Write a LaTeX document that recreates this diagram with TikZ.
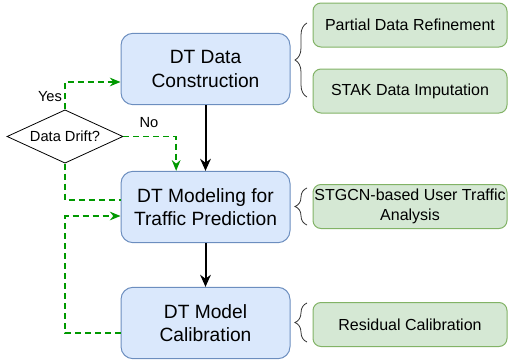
\documentclass[tikz,border=0pt]{standalone}
\usepackage{fontspec}
\setmainfont{Liberation Sans}
\usetikzlibrary{arrows.meta,shapes.geometric,decorations.pathreplacing}
\definecolor{dtblue}{HTML}{DAE8FC}
\definecolor{dtblueline}{HTML}{6C8EBF}
\definecolor{subgreen}{HTML}{D5E8D4}
\definecolor{subgreenline}{HTML}{82B366}
\definecolor{driftgreen}{HTML}{009900}

\begin{document}
\begin{tikzpicture}[x=0.75pt,y=-0.75pt,
    dtbox/.style={draw=dtblueline,fill=dtblue,rounded corners=9pt,line width=0.75pt,minimum width=126.75pt,minimum height=53.5pt,inner sep=0pt,align=center,font=\fontsize{14.4}{17.3}\selectfont},
    subbox/.style={draw=subgreenline,fill=subgreen,rounded corners=6pt,line width=0.75pt,minimum width=145.5pt,minimum height=33pt,inner sep=0pt,align=center,font=\fontsize{12}{14.5}\selectfont},
    flow/.style={-{Stealth[length=9pt,width=8pt]},line width=1.5pt},
    drift/.style={-{Stealth[length=8pt,width=6.5pt]},driftgreen,line width=1.1pt,dash pattern=on 4.5pt off 3pt},
    curly/.style={decorate,decoration={brace,amplitude=9pt},black!80,line width=0.6pt},
    small/.style={font=\fontsize{11}{13}\selectfont}]
        \useasboundingbox (0,0) rectangle (508,364);

        % main stages
        \path (205.5,69) node [dtbox](dc){DT Data\\Construction};
        \path (205.5,207) node [dtbox](dmp){DT Modeling for\\Traffic Prediction};
        \path (205.5,323) node [dtbox](dmc){DT Model\\Calibration};

        % sub-tasks
        \path (410,25) node [subbox](pdr){Partial Data Refinement}
              (410,91) node [subbox](sdi){STAK Data Imputation}
              (410,206.5) node [subbox](sut){STGCN-based User Traffic\\Analysis}
              (410,324.5) node [subbox](rc){Residual Calibration};

        \path (65,136.5) node [diamond,draw,line width=0.6pt,shape aspect=2.2,minimum width=87pt,minimum height=40pt,inner sep=0pt,small](dd){Data Drift?};

        \draw[flow] (dc) -- (dmp);
        \draw[flow] (dmp) -- (dmc);

        % braces towards the sub-tasks
        \draw[curly] (307,97) -- (307,23);
        \draw[curly] (307,225) -- (307,188);
        \draw[curly] (307,342) -- (307,303);

        % drift feedback
        \coordinate (yesin) at ([yshift=-9.75pt]dc.west);
        \coordinate (noin) at ([xshift=-22pt]dmp.north);
        \coordinate (fbout) at ([yshift=5.25pt]dmp.west);
        \coordinate (fbin) at ([yshift=-6.75pt]dmp.west);
        \coordinate (calout) at ([yshift=-7.5pt]dmc.west);
        \draw[drift] (dd.north) |- (yesin);
        \draw[drift] (dd.east) -| (noin);
        \draw[drift,-] (dd.south) |- (fbout);
        \draw[drift] (calout) -| (dd.south |- fbin) -- (fbin);
        \path (50,97) node[small](yes){Yes} (149,123) node[small](no){No};


    \end{tikzpicture}
\end{document}
